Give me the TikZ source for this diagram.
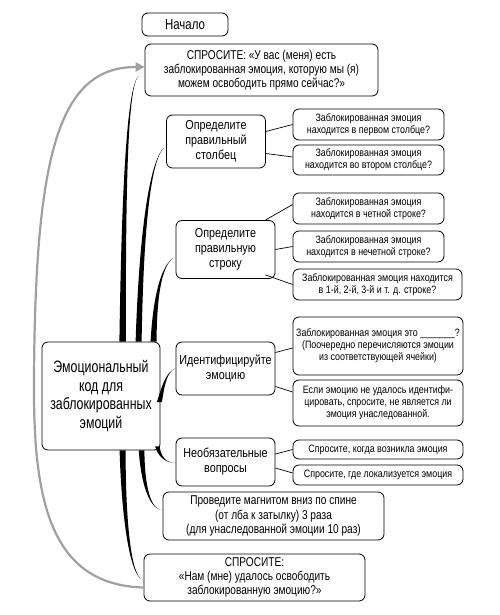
\documentclass[tikz,border=0pt]{standalone}
\usepackage{fontspec}
\setmainfont{Liberation Sans}[FakeStretch=0.83]
\newfontfamily\mainfam{Liberation Sans}[FakeStretch=0.75]
\newfontfamily\askfam{Liberation Sans}[FakeStretch=0.79]
\usetikzlibrary{arrows.meta,calc}
\definecolor{arrgray}{HTML}{A0A0A0}
\newcommand\taperline[6]{%
  \fill ($(#1)+(-#5,0)$) .. controls ($(#2)+(-#6,0)$) and ($(#3)+(-0.3,0)$) .. (#4)
        .. controls ($(#3)+(0.3,0)$) and ($(#2)+(#6,0)$) .. ($(#1)+(#5,0)$) -- cycle;}
\begin{document}
\begin{tikzpicture}[x=1pt,y=-1pt,
  box/.style={draw, rounded corners=6pt, align=center, inner sep=1pt, line width=0.8pt},
  leaf/.style={box, font=\fontsize{10.7}{12}\selectfont},
  branch/.style={box, font=\fontsize{13}{15}\selectfont, minimum width=99pt},
  ask/.style={box, font=\askfam\fontsize{12.8}{14.2}\selectfont},
  thin/.style={line width=0.7pt}]
\useasboundingbox (0,0) rectangle (500,615);

\node[box, font=\askfam\fontsize{14.5}{16}\selectfont, minimum width=86pt, minimum height=23pt] (start) at (185,24.5) {Начало};
\node[ask, minimum width=233pt, minimum height=52pt] (ask1) at (261.5,70)
  {СПРОСИТЕ: «У вас (меня) есть\\заблокированная эмоция, которую мы (я)\\можем освободить прямо сейчас?»};

\node[branch, minimum height=53pt] (col) at (216,141.5) {Определите\\правильный\\столбец};
\node[leaf, minimum width=151pt, minimum height=31pt] (col1) at (368.5,124.5) {Заблокированная эмоция\\находится в первом столбце?};
\node[leaf, minimum width=151pt, minimum height=30pt] (col2) at (368.5,160) {Заблокированная эмоция\\находится во втором столбце?};

\node[branch, minimum height=58pt] (row) at (225.5,249.5) {Определите\\правильную\\строку};
\node[leaf, minimum width=151pt, minimum height=31pt] (row1) at (368.5,208.5) {Заблокированная эмоция\\находится в четной строке?};
\node[leaf, minimum width=151pt, minimum height=31pt] (row2) at (368.5,246.5) {Заблокированная эмоция\\находится в нечетной строке?};
\node[leaf, minimum width=169pt, minimum height=31pt] (row3) at (377.5,284.5) {Заблокированная эмоция находится\\в 1-й, 2-й, 3-й и т. д. строке?};

\node[branch, minimum height=53pt] (ident) at (225.5,368.5) {Идентифицируйте\\эмоцию};
\node[leaf, minimum width=170pt, minimum height=58pt] (id1) at (378,346) {Заблокированная эмоция это \_\_\_\_\_\_\_?\\(Поочередно перечисляются эмоции\\из соответствующей ячейки)};
\node[leaf, minimum width=170pt, minimum height=46pt] (id2) at (378,403) {Если эмоцию не удалось идентифи-\\цировать, спросите, не является ли\\эмоция унаследованной.};

\node[branch, minimum height=48pt] (opt) at (225.5,462) {Необязательные\\вопросы};
\node[leaf, minimum width=170pt, minimum height=19pt] (opt1) at (378,449.5) {Спросите, когда возникла эмоция};
\node[leaf, minimum width=170pt, minimum height=20pt] (opt2) at (378,475) {Спросите, где локализуется эмоция};

\node[ask, minimum width=221pt, minimum height=48pt] (magnet) at (273.5,516)
  {Проведите магнитом вниз по спине\\(от лба к затылку) 3 раза\\(для унаследованной эмоции 10 раз)};
\node[ask, minimum width=221pt, minimum height=47pt] (ask2) at (254.5,577.5)
  {СПРОСИТЕ:\\«Нам (мне) удалось освободить\\заблокированную эмоцию?»};

\node[box, font=\mainfam\fontsize{16.5}{18.5}\selectfont, minimum width=118pt, minimum height=108pt] (main) at (101,396)
  {Эмоциональный\\код для\\заблокированных\\эмоций};

% roots of the tapered connectors on the main node
\coordinate (r1) at ($(main.north west)+(81,0)$);
\coordinate (r2) at ($(main.north west)+(97,0)$);
\coordinate (r3) at ($(main.north west)+(112,0)$);
\coordinate (r4) at ($(main.east)+(-1,6)$);
\coordinate (r5) at ($(main.south east)+(-3,-4)$);
\coordinate (r6) at ($(main.south west)+(100,0)$);
\coordinate (r7) at ($(main.south west)+(81,0)$);
\coordinate (e1) at ($(ask1.west)+(-6,6)$);
\coordinate (e2) at ($(col.west)+(-2,6)$);
\coordinate (e3) at ($(row.west)+(-1,8)$);
\coordinate (e4) at ($(ident.west)+(0,0)$);
\coordinate (e5) at ($(opt.west)+(0,1)$);
\coordinate (e6) at ($(magnet.west)+(-2,-6)$);
\coordinate (e7) at ($(ask2.west)+(-1,2)$);

\taperline{r1}{$(r1)+(1,-140)$}{$(e1)+(-12,10)$}{e1}{3.2}{2.2}
\taperline{r2}{$(r2)+(3,-120)$}{$(e2)+(-13,12)$}{e2}{3}{2}
\taperline{r3}{$(r3)+(1,-40)$}{$(e3)+(-14,6)$}{e3}{3}{2}
\taperline{r4}{$(r4)+(3,-12)$}{$(e4)+(-10,3)$}{e4}{2.5}{1.5}
\taperline{r5}{$(r5)+(2,10)$}{$(e5)+(-10,0)$}{e5}{2.2}{1.5}
\taperline{r6}{$(r6)+(1,30)$}{$(e6)+(-12,-3)$}{e6}{2.8}{2}
\taperline{r7}{$(r7)+(1,70)$}{$(e7)+(-12,-3)$}{e7}{3}{2}

% thin connectors
\draw[thin] ($(col.east)+(0,-10)$) -- (col1.west);
\draw[thin] ($(col.east)+(0,12)$) -- ($(col2.west)+(0,-3)$);
\draw[thin] ($(row.north east)+(-10,0)$) -- ($(row1.west)+(0,-4)$);
\draw[thin] (row.east) -- (row2.west);
\draw[thin] ($(row.south east)+(-10,-4)$) -- (row3.west);
\draw[thin] ($(ident.east)+(0,-16)$) -- ($(id1.west)+(0,2)$);
\draw[thin] ($(ident.east)+(0,18)$) -- ($(id2.west)+(0,-11)$);
\draw[thin] ($(opt.east)+(0,-8)$) -- (opt1.west);
\draw[thin] ($(opt.east)+(0,6)$) -- ($(opt2.west)+(0,-2)$);

% gray return arrow
\coordinate (g1) at (34,380);
\draw[arrgray, line width=2.2pt, -{Triangle[length=9pt,width=9pt]}]
  ($(ask2.west)+(0,10)$) .. controls (50,585) and (33,500) .. (g1)
  .. controls (35,150) and (60,67) .. ($(ask1.west)+(0,-3)$);
\end{tikzpicture}
\end{document}
